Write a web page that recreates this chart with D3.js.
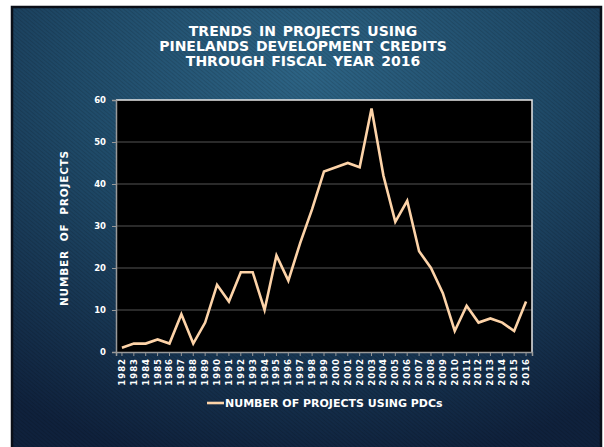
<!DOCTYPE html>
<html><head><meta charset="utf-8">
<script src="https://cdn.jsdelivr.net/npm/d3@7"></script>
<style>html,body{margin:0;padding:0;background:#fff;}svg{display:block;}</style>
</head><body>
<svg id="c" width="604" height="447"></svg>
<script>
const years = ["1982","1983","1984","1985","1986","1987","1988","1989","1990","1991","1992","1993","1994","1995","1996","1997","1998","1999","2000","2001","2002","2003","2004","2005","2006","2007","2008","2009","2010","2011","2012","2013","2014","2015","2016"];
const projects = [1,2,2,3,2,9,2,7,16,12,19,19,10,23,17,26,34,43,44,45,44,58,42,31,36,24,20,14,5,11,7,8,7,5,12];
const yTicks = [0,10,20,30,40,50,60];
const titleLines = ["TRENDS IN PROJECTS USING","PINELANDS DEVELOPMENT CREDITS","THROUGH FISCAL YEAR 2016"];
const seriesName = "NUMBER OF PROJECTS USING PDCs";
const yTitle = "NUMBER  OF  PROJECTS";

const svg = d3.select("#c");
const defs = svg.append("defs");
const g1 = defs.append("radialGradient").attr("id","bg").attr("cx","50%").attr("cy","15%").attr("r","90%");
g1.append("stop").attr("offset","0%").attr("stop-color","#2d6485");
g1.append("stop").attr("offset","45%").attr("stop-color","#1f4a68");
g1.append("stop").attr("offset","100%").attr("stop-color","#0f213c");
const pat = defs.append("pattern").attr("id","tex").attr("width",3).attr("height",3).attr("patternUnits","userSpaceOnUse").attr("patternTransform","rotate(-50)");
pat.append("rect").attr("width",1).attr("height",3).attr("fill","rgba(0,0,0,0.12)");

svg.append("rect").attr("x",11).attr("y",6).attr("width",591).attr("height",441).attr("fill","url(#bg)");
svg.append("rect").attr("x",11).attr("y",6).attr("width",591).attr("height",441).attr("fill","url(#tex)");
svg.append("rect").attr("x",12).attr("y",7).attr("width",589).attr("height",445).attr("fill","none").attr("stroke","#0a0f18").attr("stroke-width",2.5);

const font = "'DejaVu Sans', Verdana, sans-serif";
const m = {l:116, t:100, r:532, b:352};
const x = d3.scaleBand().domain(years).range([m.l, m.r]);
const y = d3.scaleLinear().domain([0,60]).range([m.b, m.t]);

// title
svg.append("g").selectAll("text").data(titleLines).join("text")
  .attr("x",303).attr("y",(d,i)=>36+i*15).attr("text-anchor","middle")
  .attr("font-family",font).attr("font-weight","bold").attr("font-size",14).attr("word-spacing","2px")
  .attr("fill","#fff").text(d=>d);

// plot bg
svg.append("rect").attr("x",m.l).attr("y",m.t).attr("width",m.r-m.l).attr("height",m.b-m.t).attr("fill","#000");

// gridlines
svg.append("g").selectAll("line").data(yTicks.filter(d=>d>0 && d<60)).join("line")
  .attr("x1",m.l).attr("x2",m.r).attr("y1",d=>y(d)).attr("y2",d=>y(d))
  .attr("stroke","#555").attr("stroke-width",1.2);

// plot frame top/right
svg.append("path").attr("d",`M${m.l},${m.t}H${m.r}V${m.b}`).attr("fill","none").attr("stroke","#e8e8e8").attr("stroke-width",1.5);

// y axis
const ya = svg.append("g").attr("transform",`translate(${m.l},0)`)
  .call(d3.axisLeft(y).tickValues(yTicks).tickSize(4).tickPadding(6));
ya.select(".domain").attr("stroke","#999").attr("stroke-width",1.5);
ya.selectAll(".tick line").attr("stroke","#999");
ya.selectAll("text").attr("fill","#fff").attr("font-family",font).attr("font-weight","bold").attr("font-size",8.5);

// x axis
const xa = svg.append("g").attr("transform",`translate(0,${m.b})`)
  .call(d3.axisBottom(x).tickSize(4).tickPadding(2));
xa.select(".domain").attr("stroke","#999").attr("stroke-width",1.5);
xa.selectAll(".tick line").attr("stroke","#999");
xa.selectAll(".tick text").attr("fill","#fff").attr("font-family",font).attr("font-weight","bold").attr("font-size",8.5)
  .attr("transform","rotate(-90)").attr("text-anchor","end").attr("dy","0.35em").attr("x",-6).attr("y",0)
  .attr("letter-spacing","1px");

// y title
svg.append("text").attr("transform","translate(68,228) rotate(-90)").attr("text-anchor","middle")
  .attr("font-family",font).attr("font-weight","bold").attr("font-size",10.5).attr("fill","#fff")
  .attr("letter-spacing","0.8px").style("white-space","pre").text(yTitle);

// line
const line = d3.line().x((d,i)=>x(years[i])+x.bandwidth()/2).y(d=>y(d));
svg.append("path").datum(projects).attr("d",line).attr("fill","none")
  .attr("stroke","#fdd3a8").attr("stroke-width",2.6).attr("stroke-linejoin","miter");

// legend
svg.append("line").attr("x1",207).attr("x2",224).attr("y1",403).attr("y2",403).attr("stroke","#fdd3a8").attr("stroke-width",2.6);
svg.append("text").attr("x",225).attr("y",407).attr("font-family",font).attr("font-weight","bold").attr("font-size",11).attr("fill","#fff").text(seriesName);
</script>
</body></html>
